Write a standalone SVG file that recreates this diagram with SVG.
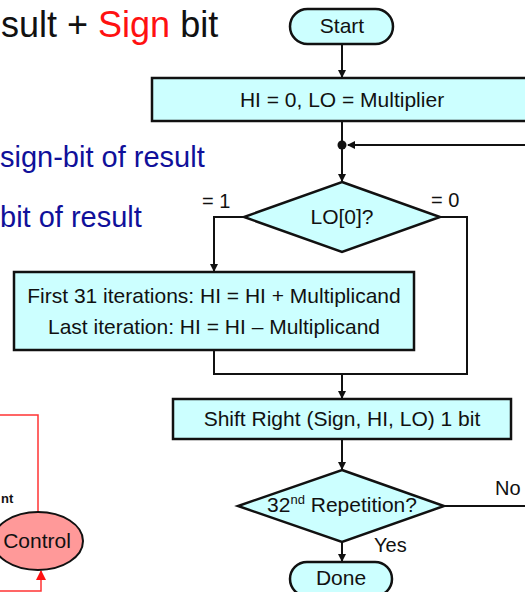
<svg xmlns="http://www.w3.org/2000/svg" width="525" height="592" viewBox="0 0 525 592">
<style>
text{font-family:"Liberation Sans",Arial,sans-serif;fill:#111}
.n{fill:#ccffff;stroke:#111;stroke-width:2.5}
.c{fill:none;stroke:#111;stroke-width:2}
.r{fill:none;stroke:#ff3333;stroke-width:1.5}
.t{font-size:21px;text-anchor:middle}
.l{font-size:20px}
.blue{font-size:29px;fill:#10109a}
</style>
<defs>
<marker id="a" markerWidth="8" markerHeight="8" refX="7" refY="4" orient="auto" markerUnits="userSpaceOnUse"><path d="M0,0 L8,4 L0,8 z" fill="#111"/></marker>
<marker id="ar" markerWidth="10" markerHeight="10" refX="9" refY="5" orient="auto" markerUnits="userSpaceOnUse"><path d="M0,0 L10,5 L0,10 z" fill="#ff1111"/></marker>
</defs>
<g id="title">
<text x="1" y="37" font-size="36">sult + <tspan fill="#ff1111">Sign</tspan> bit</text>
</g>
<g id="notes">
<text x="0" y="167" class="blue">sign-bit of result</text>
<text x="0" y="227" class="blue">bit of result</text>
<text x="1" y="503" font-size="13" font-weight="bold">nt</text>
</g>
<g id="connectors">
<path class="c" d="M342,44 V77" marker-end="url(#a)"/>
<path class="c" d="M342,121 V145"/>
<path class="c" d="M530,145 H348" marker-end="url(#a)"/>
<circle cx="342" cy="145" r="4.5" fill="#111"/>
<path class="c" d="M342,145 V181" marker-end="url(#a)"/>
<path class="c" d="M244,217 H214 V271" marker-end="url(#a)"/>
<path class="c" d="M440,217 H467 V374 H342"/>
<path class="c" d="M214,350 V374 H342"/>
<path class="c" d="M342,374 V398" marker-end="url(#a)"/>
<path class="c" d="M342,439 V469" marker-end="url(#a)"/>
<path class="c" d="M443,506 H530"/>
<path class="c" d="M342,542 V561" marker-end="url(#a)"/>
<path class="r" d="M0,415 H38 V512"/>
<path class="r" d="M0,591 H41 V571" marker-end="url(#ar)"/>
</g>
<g id="start">
<rect class="n" x="290" y="9" width="103" height="35" rx="17.5"/>
<text class="t" x="342" y="33">Start</text>
</g>
<g id="init">
<rect class="n" x="152" y="78" width="380" height="43"/>
<text class="t" x="342" y="107">HI = 0, LO = Multiplier</text>
</g>
<g id="test">
<path class="n" d="M342,182 L440,217 L342,252 L244,217 Z"/>
<text class="t" x="342" y="224">LO[0]?</text>
<text class="l" x="431" y="207">= 0</text>
<text class="l" x="202" y="208">= 1</text>
</g>
<g id="add">
<rect class="n" x="14" y="272" width="400" height="78"/>
<text class="t" x="214" y="303">First 31 iterations: HI = HI + Multiplicand</text>
<text class="t" x="214" y="334">Last iteration: HI = HI – Multiplicand</text>
</g>
<g id="shift">
<rect class="n" x="173" y="399" width="338" height="40"/>
<text class="t" x="342" y="426">Shift Right (Sign, HI, LO) 1 bit</text>
</g>
<g id="rep">
<path class="n" d="M342,470 L444,506 L342,542 L238,506 Z"/>
<text class="t" x="342" y="512">32<tspan font-size="13" dy="-8">nd</tspan><tspan dy="8"> Repetition?</tspan></text>
<text class="l" x="495" y="495">No</text>
<text class="l" x="374" y="552">Yes</text>
</g>
<g id="done">
<rect class="n" x="290" y="562" width="102" height="34" rx="17"/>
<text class="t" x="341" y="585">Done</text>
</g>
<g id="control">
<ellipse cx="38" cy="541" rx="45" ry="29" fill="#ff9999" stroke="#111" stroke-width="2"/>
<text class="t" x="37" y="548">Control</text>
</g>
</svg>
